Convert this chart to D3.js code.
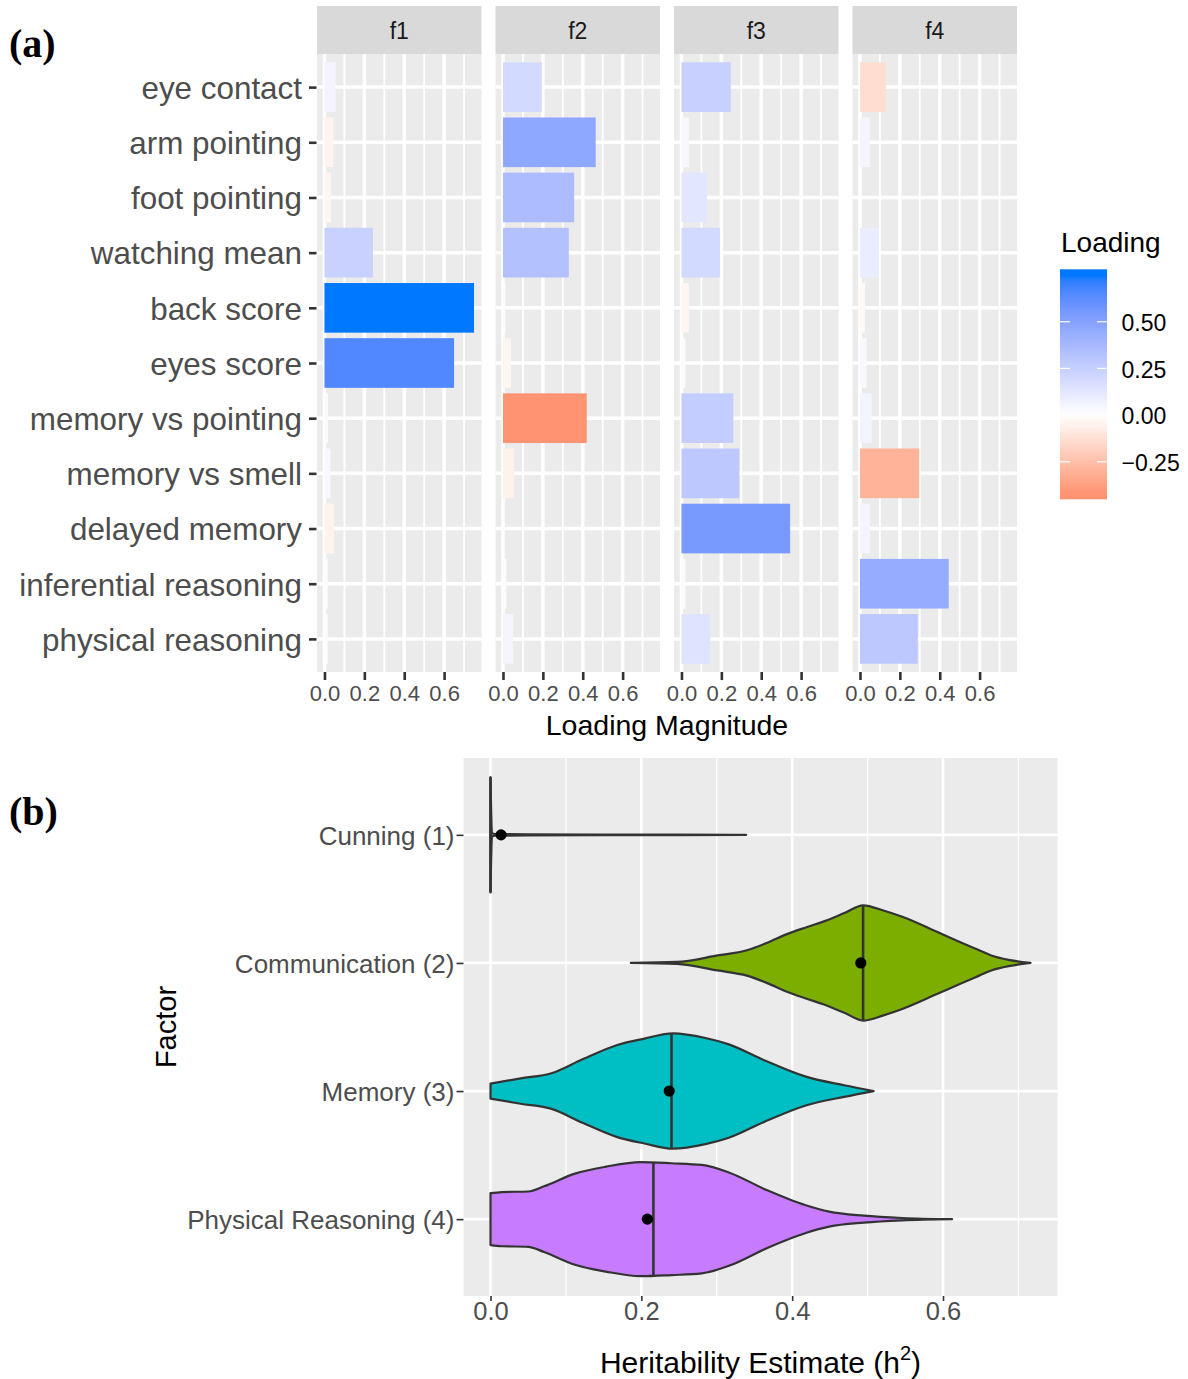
<!DOCTYPE html>
<html>
<head>
<meta charset="utf-8">
<script src="https://cdn.jsdelivr.net/npm/d3@7"></script>
<style>
  body { margin: 0; background: #fff; }
  svg text { font-family: "Liberation Sans", Arial, Helvetica, sans-serif; }
</style>
</head>
<body>
<svg id="chart" width="1188" height="1379"></svg>
<script>
// ---------- data: panel (a) factor loadings ----------
const variables = ["eye contact", "arm pointing", "foot pointing", "watching mean", "back score",
  "eyes score", "memory vs pointing", "memory vs smell", "delayed memory",
  "inferential reasoning", "physical reasoning"];
const factors = ["f1", "f2", "f3", "f4"];
const loadingsF1 = [0.055, -0.045, -0.033, 0.243, 0.75, 0.65, 0.018, 0.03, -0.048, 0.016, -0.016];
const loadingsF2 = [0.195, 0.465, 0.357, 0.33, 0.012, -0.04, -0.42, -0.056, -0.005, -0.017, 0.05];
const loadingsF3 = [0.247, 0.037, 0.128, 0.193, -0.037, 0.02, 0.26, 0.29, 0.545, 0.02, 0.145];
const loadingsF4 = [-0.13, 0.05, 0.004, 0.095, -0.025, 0.033, 0.058, -0.297, 0.05, 0.445, 0.29];
const magnitudeTicks = [0, 0.2, 0.4, 0.6];
const magnitudeMinorTicks = [0.1, 0.3, 0.5, 0.7];
const legendTicks = [0.5, 0.25, 0, -0.25];

// ---------- data: panel (b) heritability posterior densities ----------
// each profile: [h2 value, relative half-width of the violin]
const factorNames = ["Cunning (1)", "Communication (2)", "Memory (3)", "Physical Reasoning (4)"];
const factorColors = ["#F8766D", "#7CAE00", "#00BFC4", "#C77CFF"];
const densityCunning = [[0, 1], [0.002, 0.03], [0.006, 0.014], [0.05, 0.009], [0.15, 0.006], [0.25, 0.004], [0.339, 0]];
const densityCommunication = [[0.186, 0], [0.247, 0.017], [0.301, 0.13], [0.340, 0.22], [0.367, 0.35], [0.393, 0.50],
  [0.419, 0.62], [0.444, 0.73], [0.470, 0.87], [0.494, 1.0], [0.521, 0.91], [0.546, 0.80], [0.592, 0.54],
  [0.623, 0.36], [0.648, 0.22], [0.664, 0.13], [0.689, 0.05], [0.716, 0]];
const densityMemory = [[0, 0.13], [0.040, 0.22], [0.081, 0.31], [0.122, 0.55], [0.168, 0.80], [0.204, 0.91],
  [0.242, 1.0], [0.285, 0.92], [0.316, 0.81], [0.362, 0.54], [0.418, 0.25], [0.469, 0.10], [0.508, 0]];
const densityPhysical = [[0, 0.45], [0.015, 0.47], [0.05, 0.48], [0.071, 0.57], [0.112, 0.79], [0.153, 0.91],
  [0.199, 0.99], [0.24, 0.97], [0.28, 0.94], [0.316, 0.81], [0.367, 0.50], [0.418, 0.24], [0.449, 0.13],
  [0.495, 0.06], [0.546, 0.02], [0.612, 0]];
const medians = [0, 0.494, 0.240, 0.216];
const means = [0.014, 0.491, 0.237, 0.208];
const heritTicks = [0, 0.2, 0.4, 0.6];
const heritMinorTicks = [0.1, 0.3, 0.5, 0.7];

// ---------- drawing ----------
const svg = d3.select("#chart");
const AXIS_TEXT = "#4D4D4D", TICK = "#333333", PANEL = "#EBEBEB", STRIP = "#D9D9D9";

// ===== panel (a) =====
const loadings = [loadingsF1, loadingsF2, loadingsF3, loadingsF4];
const allLoadings = loadings.flat();
const maxMag = d3.max(allLoadings, v => Math.abs(v));
const minLoad = d3.min(allLoadings), maxLoad = d3.max(allLoadings);

const A = { left: 317, facetW: 164.5, gap: 14, stripTop: 6, top: 54, bottom: 672 };
const xA = d3.scaleLinear().domain([-maxMag * 0.05, maxMag * 1.05]).range([0, A.facetW]);
const yA = d3.scalePoint().domain(variables).range([A.top, A.bottom]).padding(0.6);
const barH = yA.step() * 0.9;
const fill = d3.scaleLinear().domain([-maxMag, 0, maxMag])
  .range(["red", "white", "#0078FF"]).interpolate(d3.interpolateLab);

factors.forEach((f, i) => {
  const x0 = A.left + i * (A.facetW + A.gap);
  const g = svg.append("g").attr("transform", `translate(${x0},0)`);
  g.append("rect").attr("x", 0).attr("y", A.top).attr("width", A.facetW)
    .attr("height", A.bottom - A.top).attr("fill", PANEL);
  g.selectAll("line.minor").data(magnitudeMinorTicks).join("line")
    .attr("x1", d => xA(d)).attr("x2", d => xA(d)).attr("y1", A.top).attr("y2", A.bottom)
    .attr("stroke", "#fff").attr("stroke-width", 1.8);
  g.selectAll("line.majorx").data(magnitudeTicks).join("line")
    .attr("x1", d => xA(d)).attr("x2", d => xA(d)).attr("y1", A.top).attr("y2", A.bottom)
    .attr("stroke", "#fff").attr("stroke-width", 3.5);
  g.selectAll("line.majory").data(variables).join("line")
    .attr("x1", 0).attr("x2", A.facetW).attr("y1", d => yA(d)).attr("y2", d => yA(d))
    .attr("stroke", "#fff").attr("stroke-width", 3.5);

  g.selectAll("rect.bar").data(variables.map((v, j) => ({ v, val: loadings[i][j] }))).join("rect")
    .attr("class", "bar")
    .attr("x", xA(0)).attr("y", d => yA(d.v) - barH / 2)
    .attr("width", d => xA(Math.abs(d.val)) - xA(0)).attr("height", barH)
    .attr("fill", d => fill(d.val));

  g.append("rect").attr("x", 0).attr("y", A.stripTop).attr("width", A.facetW)
    .attr("height", A.top - A.stripTop).attr("fill", STRIP);
  g.append("text").attr("x", A.facetW / 2).attr("y", 39).attr("text-anchor", "middle")
    .attr("font-size", 23).attr("fill", "#1A1A1A").text(f);

  const ax = g.append("g").attr("transform", `translate(0,${A.bottom})`)
    .call(d3.axisBottom(xA).tickValues(magnitudeTicks).tickFormat(d3.format(".1f"))
      .tickSize(8).tickPadding(5));
  ax.select(".domain").remove();
  ax.selectAll("line").attr("stroke", TICK).attr("stroke-width", 2.6);
  ax.selectAll("text").attr("font-size", 22).attr("fill", AXIS_TEXT)
    .attr("font-family", '"Liberation Sans", Arial, sans-serif');
});

const ayA = svg.append("g").attr("transform", `translate(${A.left - 0.5},0)`)
  .call(d3.axisLeft(yA).tickSize(7.5).tickPadding(7));
ayA.select(".domain").remove();
ayA.selectAll("line").attr("stroke", TICK).attr("stroke-width", 2.6);
ayA.selectAll("text").attr("font-size", 31.4).attr("fill", AXIS_TEXT).attr("dy", "0.36em")
  .attr("font-family", '"Liberation Sans", Arial, sans-serif');

svg.append("text").attr("x", (A.left + A.left + 4 * A.facetW + 3 * A.gap) / 2).attr("y", 735)
  .attr("text-anchor", "middle").attr("font-size", 28.5).attr("fill", "#000").text("Loading Magnitude");

// legend
const L = { x: 1060, y: 269.3, w: 47, h: 230 };
svg.append("text").attr("x", 1061).attr("y", 252).attr("font-size", 28).attr("fill", "#000").text("Loading");
const legendY = d3.scaleLinear().domain([minLoad, maxLoad])
  .range([L.y + L.h - L.h / 40, L.y + L.h / 40]);
const grad = svg.append("defs").append("linearGradient").attr("id", "loadGrad")
  .attr("x1", 0).attr("y1", 0).attr("x2", 0).attr("y2", 1);
grad.append("stop").attr("offset", 0).attr("stop-color", fill(maxLoad));
d3.range(0, 41).forEach(k => {
  const v = maxLoad - (maxLoad - minLoad) * k / 40;
  grad.append("stop").attr("offset", (legendY(v) - L.y) / L.h).attr("stop-color", fill(v));
});
grad.append("stop").attr("offset", 1).attr("stop-color", fill(minLoad));
svg.append("rect").attr("x", L.x).attr("y", L.y).attr("width", L.w).attr("height", L.h)
  .attr("fill", "url(#loadGrad)");
svg.append("g").selectAll("line").data(legendTicks.flatMap(t => [[t, L.x, L.x + 10], [t, L.x + L.w - 10, L.x + L.w]]))
  .join("line").attr("x1", d => d[1]).attr("x2", d => d[2])
  .attr("y1", d => legendY(d[0])).attr("y2", d => legendY(d[0]))
  .attr("stroke", "#fff").attr("stroke-width", 1.2);
const lax = svg.append("g").attr("transform", `translate(${L.x + L.w},0)`)
  .call(d3.axisRight(legendY).tickValues(legendTicks).tickFormat(d3.format(".2f")).tickSize(0).tickPadding(14.5));
lax.select(".domain").remove();
lax.selectAll("text").attr("font-size", 23).attr("fill", "#000").attr("dy", "0.38em")
  .attr("font-family", '"Liberation Sans", Arial, sans-serif');

// ===== panel (b) =====
const densities = [densityCunning, densityCommunication, densityMemory, densityPhysical];
const B = { left: 463.5, right: 1057.5, top: 758, bottom: 1296 };
const ext = d3.extent(densities.flat(), d => d[0]);
const padB = (ext[1] - ext[0]) * 0.05;
const xB = d3.scaleLinear().domain([ext[0] - padB, ext[1] + padB]).range([B.left, B.right]);
const yB = d3.scalePoint().domain(factorNames).range([B.top, B.bottom]).padding(0.6);
const hwMax = yB.step() * 0.45;

const gB = svg.append("g");
gB.append("rect").attr("x", B.left).attr("y", B.top).attr("width", B.right - B.left)
  .attr("height", B.bottom - B.top).attr("fill", PANEL);
gB.selectAll("line.minor").data(heritMinorTicks).join("line")
  .attr("x1", d => xB(d)).attr("x2", d => xB(d)).attr("y1", B.top).attr("y2", B.bottom)
  .attr("stroke", "#fff").attr("stroke-width", 1.3);
gB.selectAll("line.majorx").data(heritTicks).join("line")
  .attr("x1", d => xB(d)).attr("x2", d => xB(d)).attr("y1", B.top).attr("y2", B.bottom)
  .attr("stroke", "#fff").attr("stroke-width", 2.6);
gB.selectAll("line.majory").data(factorNames).join("line")
  .attr("x1", B.left).attr("x2", B.right).attr("y1", d => yB(d)).attr("y2", d => yB(d))
  .attr("stroke", "#fff").attr("stroke-width", 2.8);

function halfWidthAt(profile, v) {
  for (let k = 1; k < profile.length; k++) {
    const [a, wa] = profile[k - 1], [b, wb] = profile[k];
    if (v >= a && v <= b) return b === a ? Math.max(wa, wb) : wa + (wb - wa) * (v - a) / (b - a);
  }
  return 0;
}

factorNames.forEach((name, i) => {
  const cy = yB(name);
  const area = d3.area().curve(d3.curveMonotoneX)
    .x(d => xB(d[0])).y0(d => cy + d[1] * hwMax).y1(d => cy - d[1] * hwMax);
  gB.append("path").datum(densities[i]).attr("d", area)
    .attr("fill", factorColors[i]).attr("stroke", "#333333").attr("stroke-width", 2.2)
    .attr("stroke-linejoin", "round");
  const hw = halfWidthAt(densities[i], medians[i]) * hwMax;
  gB.append("line").attr("x1", xB(medians[i])).attr("x2", xB(medians[i]))
    .attr("y1", cy - hw).attr("y2", cy + hw).attr("stroke", "#333333").attr("stroke-width", 2.6);
  gB.append("circle").attr("cx", xB(means[i])).attr("cy", cy).attr("r", 5.6).attr("fill", "#000");
});

const axB = svg.append("g").attr("transform", `translate(0,${B.bottom})`)
  .call(d3.axisBottom(xB).tickValues(heritTicks).tickFormat(d3.format(".1f")).tickSize(5).tickPadding(1.3));
axB.select(".domain").remove();
axB.selectAll("line").attr("stroke", TICK).attr("stroke-width", 1.6);
axB.selectAll("text").attr("font-size", 25.5).attr("fill", AXIS_TEXT)
  .attr("font-family", '"Liberation Sans", Arial, sans-serif');

const ayB = svg.append("g").attr("transform", `translate(${B.left},0)`)
  .call(d3.axisLeft(yB).tickSize(7).tickPadding(2));
ayB.select(".domain").remove();
ayB.selectAll("line").attr("stroke", TICK).attr("stroke-width", 1.6);
ayB.selectAll("text").attr("font-size", 26).attr("fill", AXIS_TEXT).attr("dy", "0.37em")
  .attr("font-family", '"Liberation Sans", Arial, sans-serif');

const xt = svg.append("text").attr("x", (B.left + B.right) / 2).attr("y", 1373)
  .attr("text-anchor", "middle").attr("font-size", 30).attr("fill", "#000");
xt.append("tspan").text("Heritability Estimate (h");
xt.append("tspan").attr("font-size", 20).attr("dy", -13).text("2");
xt.append("tspan").attr("dy", 13).text(")");

svg.append("text").attr("transform", `translate(176,${(B.top + B.bottom) / 2}) rotate(-90)`)
  .attr("text-anchor", "middle").attr("font-size", 29).attr("fill", "#000").text("Factor");

// panel tags
svg.append("text").attr("x", 9).attr("y", 57).attr("font-size", 40).attr("font-weight", "bold")
  .style("font-family", '"Liberation Serif", "DejaVu Serif", serif').attr("fill", "#000").text("(a)");
svg.append("text").attr("x", 9).attr("y", 825).attr("font-size", 40).attr("font-weight", "bold")
  .style("font-family", '"Liberation Serif", "DejaVu Serif", serif').attr("fill", "#000").text("(b)");
</script>
</body>
</html>
